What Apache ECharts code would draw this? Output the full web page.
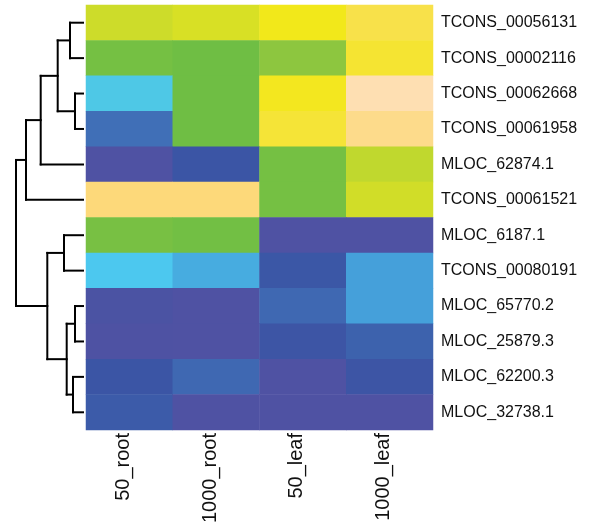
<!DOCTYPE html>
<html>
<head>
<meta charset="utf-8">
<script src="https://cdn.jsdelivr.net/npm/echarts@6/dist/echarts.min.js"></script>
<style>html,body{margin:0;padding:0;background:#fff}#c{width:593px;height:529px}</style>
</head>
<body>
<div id="c"></div>
<script>
var columns = ['50_root', '1000_root', '50_leaf', '1000_leaf'];
var rows = ['TCONS_00056131', 'TCONS_00002116', 'TCONS_00062668', 'TCONS_00061958',
  'MLOC_62874.1', 'TCONS_00061521', 'MLOC_6187.1', 'TCONS_00080191',
  'MLOC_65770.2', 'MLOC_25879.3', 'MLOC_62200.3', 'MLOC_32738.1'];
// values per row, in column order
var v_TCONS_00056131 = [7.0, 7.3, 8.0, 8.5];
var v_TCONS_00002116 = [5.2, 5.0, 6.0, 8.25];
var v_TCONS_00062668 = [4.05, 5.0, 8.05, 10];
var v_TCONS_00061958 = [2.1, 5.0, 8.3, 9.3];
var v_MLOC_62874_1 = [0, 1, 5.2, 6.8];
var v_TCONS_00061521 = [9, 9, 5.2, 7.1];
var v_MLOC_6187_1 = [5.3, 5.1, 0, 0];
var v_TCONS_00080191 = [4, 3.3, 1.1, 3];
var v_MLOC_65770_2 = [0.2, 0, 1.9, 3];
var v_MLOC_25879_3 = [0.05, 0, 0.9, 1.6];
var v_MLOC_62200_3 = [1, 1.9, 0, 0.9];
var v_MLOC_32738_1 = [1.3, 0, 0, 0];
var rowValues = [v_TCONS_00056131, v_TCONS_00002116, v_TCONS_00062668, v_TCONS_00061958,
  v_MLOC_62874_1, v_TCONS_00061521, v_MLOC_6187_1, v_TCONS_00080191,
  v_MLOC_65770_2, v_MLOC_25879_3, v_MLOC_62200_3, v_MLOC_32738_1];
// dendrogram merges: [childA, childB, height]; leaves 0..11, internal nodes 12..
var merges = [
  [0, 1, 13], [2, 3, 8], [12, 13, 25.3], [14, 4, 42.3], [15, 5, 57],
  [6, 7, 19], [8, 9, 8], [10, 11, 10], [18, 19, 16.3], [17, 20, 35.7], [16, 21, 67]
];
var palette = ['#4f52a3', '#3b55a5', '#3f6ab3', '#45a0da', '#4cc8ef', '#6fbe44',
  '#8dc63f', '#cddc2a', '#f2e81a', '#fdd97a', '#fedfb2'];

var heatData = [];
rowValues.forEach(function (vals, r) {
  vals.forEach(function (v, c) { heatData.push([c, r, v]); });
});

var nodeY = [], nodeH = [];
for (var i = 0; i < rows.length; i++) { nodeY.push(i + 0.5); nodeH.push(0); }
var segs = [];
merges.forEach(function (m) {
  var a = m[0], b = m[1], h = m[2];
  segs.push([nodeH[a], nodeY[a], h, nodeY[a]]);
  segs.push([nodeH[b], nodeY[b], h, nodeY[b]]);
  segs.push([h, nodeY[a], h, nodeY[b]]);
  nodeY.push((nodeY[a] + nodeY[b]) / 2);
  nodeH.push(h);
});

var font = 'Liberation Sans, Arial, Helvetica, sans-serif';
var chart = echarts.init(document.getElementById('c'), null, {renderer: 'canvas'});
chart.setOption({
  backgroundColor: '#fff',
  animation: false,
  grid: [
    {left: 86, top: 5, width: 347, height: 425},
    {left: 0, top: 5, width: 83, height: 425}
  ],
  xAxis: [
    {type: 'category', data: columns, gridIndex: 0, position: 'bottom',
      axisLine: {show: false}, axisTick: {show: false}, splitLine: {show: false},
      axisLabel: {rotate: 90, fontSize: 20, fontFamily: font, color: '#111', margin: 3,
        verticalAlign: 'bottom', lineHeight: 12}},
    {type: 'value', gridIndex: 1, min: 0, max: 83, inverse: true, show: false}
  ],
  yAxis: [
    {type: 'category', data: rows, gridIndex: 0, inverse: true, position: 'right',
      axisLine: {show: false}, axisTick: {show: false}, splitLine: {show: false},
      axisLabel: {fontSize: 16, fontFamily: font, color: '#111', margin: 8}},
    {type: 'value', gridIndex: 1, min: 0, max: 12, inverse: true, show: false}
  ],
  visualMap: {
    show: false, type: 'continuous', min: 0, max: 10, dimension: 2, seriesIndex: 0,
    inRange: {color: palette}
  },
  series: [
    {type: 'heatmap', xAxisIndex: 0, yAxisIndex: 0, data: heatData,
      itemStyle: {borderWidth: 0}, emphasis: {disabled: true}},
    {type: 'custom', xAxisIndex: 1, yAxisIndex: 1, data: segs, clip: false,
      encode: {x: [0, 2], y: [1, 3]},
      renderItem: function (params, api) {
        var p1 = api.coord([api.value(0), api.value(1)]);
        var p2 = api.coord([api.value(2), api.value(3)]);
        return {type: 'line', shape: {x1: p1[0], y1: p1[1], x2: p2[0], y2: p2[1]},
          style: {stroke: '#000', lineWidth: 2, lineCap: 'square'}};
      }}
  ]
});
</script>
</body>
</html>
